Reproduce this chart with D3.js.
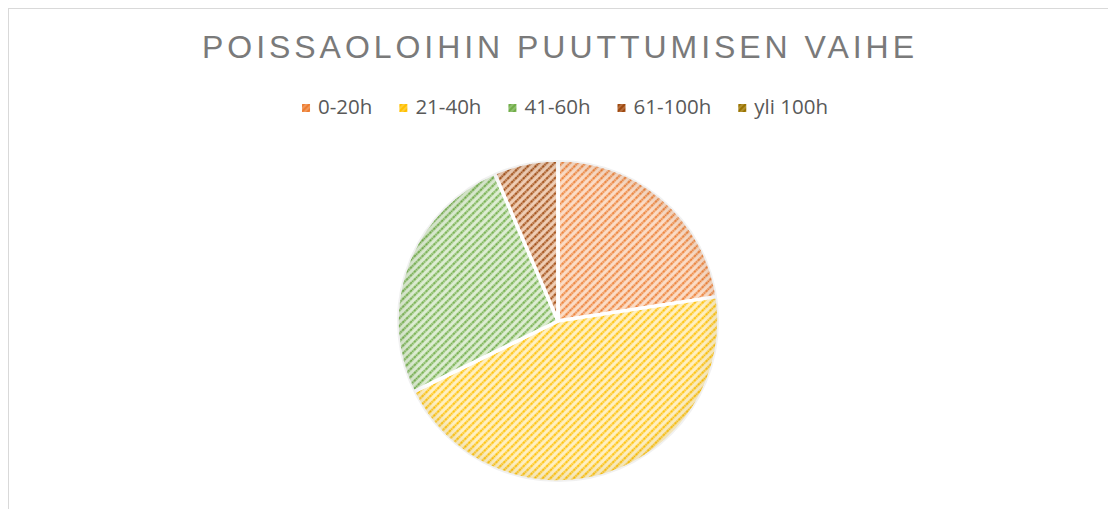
<!DOCTYPE html>
<html>
<head>
<meta charset="utf-8">
<script src="https://cdn.jsdelivr.net/npm/d3@7"></script>
<style>
  html, body { margin: 0; padding: 0; background: #fff; overflow: hidden; }
</style>
</head>
<body>
<div id="chart"></div>
<script>
// data (counts per absence band)
var categories = ["0-20h", "21-40h", "41-60h", "61-100h", "yli 100h"];
var values = [7, 14, 8, 2, 0];
var titleText = "POISSAOLOIHIN PUUTTUMISEN VAIHE";

// colours: line colour + pale background of the hatch
var lineColors = ["#ED7D31", "#FFC000", "#70AD47", "#9E480E", "#997300"];
var backColors = ["#FBDCC6", "#FFF0C2", "#DDEDD2", "#EFCDB4", "#EEDDA8"];

var W = 1108, H = 509;

var svg = d3.select("#chart").append("svg")
  .attr("width", W).attr("height", H);

// chart frame
svg.append("rect")
  .attr("x", 8.5).attr("y", 8.5)
  .attr("width", W + 20).attr("height", H + 20)
  .attr("fill", "#fff")
  .attr("stroke", "#d9d9d9")
  .attr("stroke-width", 1);

var defs = svg.append("defs");

categories.forEach(function (c, i) {
  var p = defs.append("pattern")
    .attr("id", "hatch" + i)
    .attr("patternUnits", "userSpaceOnUse")
    .attr("width", 5.5).attr("height", 5.5)
    .attr("patternTransform", "rotate(45)");
  p.append("rect")
    .attr("width", 5.5).attr("height", 5.5)
    .attr("fill", backColors[i]);
  p.append("line")
    .attr("x1", 1.3).attr("y1", 0)
    .attr("x2", 1.3).attr("y2", 5.5)
    .attr("stroke", lineColors[i])
    .attr("stroke-width", 2)
    .attr("stroke-dasharray", "1.6 0.6");

  // denser version for the small legend keys
  var k = defs.append("pattern")
    .attr("id", "key" + i)
    .attr("patternUnits", "userSpaceOnUse")
    .attr("width", 4).attr("height", 4)
    .attr("patternTransform", "rotate(45)");
  k.append("rect")
    .attr("width", 4).attr("height", 4)
    .attr("fill", lineColors[i]);
  k.append("line")
    .attr("x1", 1).attr("y1", 0)
    .attr("x2", 1).attr("y2", 4)
    .attr("stroke", backColors[i])
    .attr("stroke-opacity", 0.55)
    .attr("stroke-width", 1);
});

// soft darker rim like the reference
var rim = defs.append("radialGradient").attr("id", "rim")
  .attr("cx", "50%").attr("cy", "50%").attr("r", "50%");
rim.append("stop").attr("offset", "0.9").attr("stop-color", "#000").attr("stop-opacity", 0);
rim.append("stop").attr("offset", "1").attr("stop-color", "#000").attr("stop-opacity", 0.06);

// title
var title = svg.append("text")
  .attr("x", 558)
  .attr("y", 58)
  .attr("text-anchor", "middle")
  .attr("font-family", "Liberation Sans, Arial, sans-serif")
  .attr("font-size", 32)
  .attr("fill", "#7a7a7a")
  .text(titleText);
title.attr("textLength", 712).attr("lengthAdjust", "spacing");

// legend
var legend = svg.append("g").attr("class", "legend");
var items = legend.selectAll("g.item")
  .data(categories)
  .enter().append("g").attr("class", "item");

items.append("rect")
  .attr("width", 8).attr("height", 8)
  .attr("y", -9)
  .attr("fill", function (d, i) { return "url(#key" + i + ")"; });

items.append("text")
  .attr("x", 16)
  .attr("y", 1)
  .attr("font-family", "Open Sans, sans-serif")
  .attr("font-size", 20.5)
  .attr("fill", "#595959")
  .text(function (d) { return d; });

var xPos = 0, gap = 27;
items.each(function () {
  var t = d3.select(this).select("text").node();
  d3.select(this).attr("transform", "translate(" + xPos + ",0)");
  xPos += 16 + t.getComputedTextLength() + gap;
});
var legendW = xPos - gap;
legend.attr("transform", "translate(" + (565 - legendW / 2) + ",113)");

// pie
var cx = 558, cy = 321, radius = 161;

var pie = d3.pie().sort(null).value(function (d) { return d; });
var arc = d3.arc().innerRadius(0).outerRadius(radius);

var g = svg.append("g").attr("transform", "translate(" + cx + "," + cy + ")");

g.selectAll("path.slice")
  .data(pie(values))
  .enter().append("path")
  .attr("class", "slice")
  .attr("d", arc)
  .attr("fill", function (d, i) { return "url(#hatch" + i + ")"; })
  .attr("stroke", "#fff")
  .attr("stroke-width", 3.5)
  .attr("stroke-linejoin", "round");

g.append("circle")
  .attr("r", radius)
  .attr("fill", "url(#rim)")
  .attr("pointer-events", "none");
</script>
</body>
</html>
